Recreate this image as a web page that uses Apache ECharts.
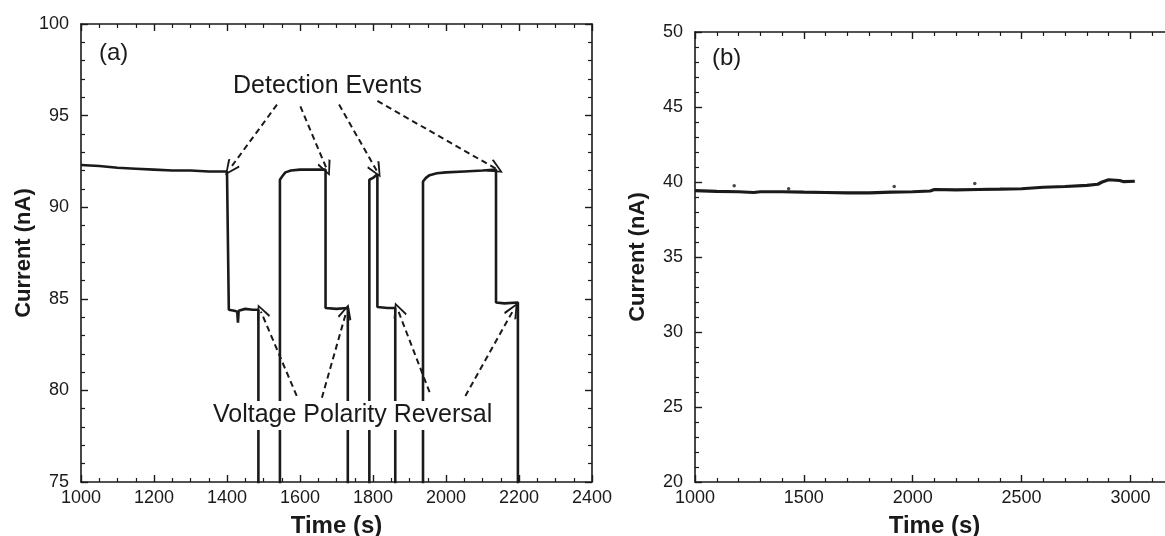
<!DOCTYPE html>
<html>
<head>
<meta charset="utf-8">
<script src="https://cdn.jsdelivr.net/npm/echarts@6/dist/echarts.min.js"></script>
<style>
  html, body { margin: 0; padding: 0; background: #fff; }
  #chart { width: 1165px; height: 536px; }
</style>
</head>
<body>
<div id="chart"></div>
<script>
// Panel (a): current trace with detection events and polarity reversals
const timeA = [1000, 1050, 1100, 1150, 1200, 1250, 1300, 1350, 1400, 1405,
    1405, 1420, 1428, 1430, 1432, 1450, 1470, 1486,
    1486, 1545,
    1545, 1552, 1560, 1575, 1600, 1640, 1670,
    1670, 1700, 1731,
    1731, 1790,
    1790, 1800, 1812,
    1812, 1840, 1861,
    1861, 1937,
    1937, 1945, 1955, 1975, 2000, 2050, 2100, 2137,
    2137, 2160, 2197,
    2197];
const currentA = [92.3, 92.25, 92.15, 92.1, 92.05, 92.0, 92.0, 91.95, 91.95, 91.95,
    84.4, 84.35, 84.3, 83.7, 84.35, 84.45, 84.4, 84.4,
    70, 70,
    91.5, 91.7, 91.9, 92.0, 92.05, 92.05, 92.05,
    84.5, 84.45, 84.5,
    70, 70,
    91.5, 91.6, 91.8,
    84.55, 84.5, 84.5,
    70, 70,
    91.4, 91.6, 91.75, 91.85, 91.9, 91.95, 92.0, 92.05,
    84.8, 84.75, 84.8,
    70];

// dashed annotation arrows, [fromTime, fromCurrent, toTime, toCurrent]
const detectionArrows = [
    [1537, 95.6, 1408, 92.1],
    [1601, 95.5, 1673, 92.1],
    [1707, 95.6, 1810, 92.0],
    [1812, 95.8, 2137, 92.1]
];
const reversalArrows = [
    [1591, 79.7, 1493, 84.3],
    [1660, 79.6, 1727, 84.3],
    [1955, 79.9, 1868, 84.4],
    [2053, 79.7, 2185, 84.4]
];

// Panel (b): control trace
const timeB = [1000, 1100, 1200, 1270, 1300, 1400, 1500, 1600, 1700, 1800,
    1900, 2000, 2080, 2100, 2200, 2300, 2400, 2500, 2600, 2700,
    2800, 2850, 2870, 2900, 2950, 2970, 3020];
const currentB = [39.42, 39.38, 39.35, 39.3, 39.35, 39.35, 39.32, 39.3, 39.27, 39.28,
    39.32, 39.35, 39.4, 39.5, 39.48, 39.5, 39.52, 39.55, 39.65, 39.7,
    39.78, 39.85, 40.0, 40.15, 40.1, 40.02, 40.05];
const outlierTimeB = [1180, 1430, 1915, 2285];
const outlierCurrentB = [39.75, 39.55, 39.7, 39.9];

const INK = '#1a1a1a';
const FONT = 'Liberation Sans, Arial, sans-serif';
const ARROW_HEAD = 'path://M0,0 L7,12 L5.4,13.2 L0,3.2 L-5.4,13.2 L-7,12 Z';

const chart = echarts.init(document.getElementById('chart'));

function pairs(xs, ys) {
    return xs.map((x, i) => [x, ys[i]]);
}

function arrowLines(list) {
    return list.map(a => [{ coord: [a[0], a[1]] }, { coord: [a[2], a[3]] }]);
}

// frame axis: labelled (bottom/left) or mirror (top/right)
function xAxisOf(gridIndex, min, max, interval, splits, mirror, showMax) {
    return {
        type: 'value', gridIndex, min, max, interval,
        position: mirror ? 'top' : 'bottom',
        axisLine: { show: true, lineStyle: { color: INK, width: 1.6 } },
        axisTick: { show: true, inside: true, length: 7, lineStyle: { color: INK, width: 1.4 } },
        minorTick: { show: true, splitNumber: splits, length: 4, lineStyle: { color: INK, width: 1.2 } },
        axisLabel: { show: !mirror, color: INK, fontSize: 18, fontFamily: FONT, margin: 7,
                     showMaxLabel: showMax, formatter: v => String(v) },
        splitLine: { show: false },
        name: mirror ? '' : 'Time (s)',
        nameLocation: 'middle',
        nameGap: 32,
        nameTextStyle: { color: INK, fontSize: 24, fontWeight: 'bold', fontFamily: FONT }
    };
}

function yAxisOf(gridIndex, min, max, interval, splits, mirror) {
    return {
        type: 'value', gridIndex, min, max, interval,
        position: mirror ? 'right' : 'left',
        axisLine: { show: true, lineStyle: { color: INK, width: 1.6 } },
        axisTick: { show: true, inside: true, length: 7, lineStyle: { color: INK, width: 1.4 } },
        minorTick: { show: true, splitNumber: splits, length: 4, lineStyle: { color: INK, width: 1.2 } },
        axisLabel: { show: !mirror, color: INK, fontSize: 18, fontFamily: FONT, margin: 12,
                     formatter: v => String(v) },
        splitLine: { show: false },
        name: mirror ? '' : 'Current (nA)',
        nameLocation: 'middle',
        nameGap: 46,
        nameTextStyle: { color: INK, fontSize: 22, fontWeight: 'bold', fontFamily: FONT }
    };
}

const dashed = { color: INK, width: 2, type: [6, 4] };

const option = {
    animation: false,
    backgroundColor: '#fff',
    grid: [
        { left: 81, top: 24, width: 511, bottom: 54, outerBoundsMode: 'none', containLabel: false },
        { left: 695, top: 32, width: 479, bottom: 54, outerBoundsMode: 'none', containLabel: false }
    ],
    xAxis: [
        xAxisOf(0, 1000, 2400, 200, 4, false, true),
        xAxisOf(0, 1000, 2400, 200, 4, true, true),
        xAxisOf(1, 1000, 3200, 500, 5, false, false),
        xAxisOf(1, 1000, 3200, 500, 5, true, false)
    ],
    yAxis: [
        yAxisOf(0, 75, 100, 5, 5, false),
        yAxisOf(0, 75, 100, 5, 5, true),
        yAxisOf(1, 20, 50, 5, 5, false),
        yAxisOf(1, 20, 50, 5, 5, true)
    ],
    graphic: [
        { type: 'text', left: 99, top: 41, z: 10,
          style: { text: '(a)', fill: INK, font: '24px ' + FONT } },
        { type: 'text', left: 712, top: 46, z: 10,
          style: { text: '(b)', fill: INK, font: '24px ' + FONT } },
        { type: 'text', left: 233, top: 74, z: 10,
          style: { text: 'Detection Events', fill: INK, font: '25px ' + FONT } },
        { type: 'text', left: 209, top: 401, z: 10,
          style: { text: 'Voltage Polarity Reversal', fill: INK, font: '25px ' + FONT,
                   backgroundColor: '#fff', padding: [2, 4] } }
    ],
    series: [
        {
            name: 'Panel a',
            type: 'line',
            xAxisIndex: 0, yAxisIndex: 0,
            data: pairs(timeA, currentA),
            showSymbol: false,
            lineStyle: { color: INK, width: 2.6 },
            clip: true,
            markLine: {
                silent: true,
                symbol: ['none', ARROW_HEAD],
                symbolSize: [14, 16],
                label: { show: false },
                lineStyle: dashed,
                emphasis: { disabled: true },
                data: arrowLines(detectionArrows).concat(arrowLines(reversalArrows))
            }
        },
        {
            name: 'Panel b',
            type: 'line',
            xAxisIndex: 2, yAxisIndex: 2,
            data: pairs(timeB, currentB),
            showSymbol: false,
            lineStyle: { color: INK, width: 3.2 }
        },
        {
            name: 'Panel b outliers',
            type: 'scatter',
            xAxisIndex: 2, yAxisIndex: 2,
            data: pairs(outlierTimeB, outlierCurrentB),
            symbolSize: 3.5,
            itemStyle: { color: INK }
        }
    ]
};

chart.setOption(option);
window.addEventListener('resize', () => chart.resize());
</script>
</body>
</html>
